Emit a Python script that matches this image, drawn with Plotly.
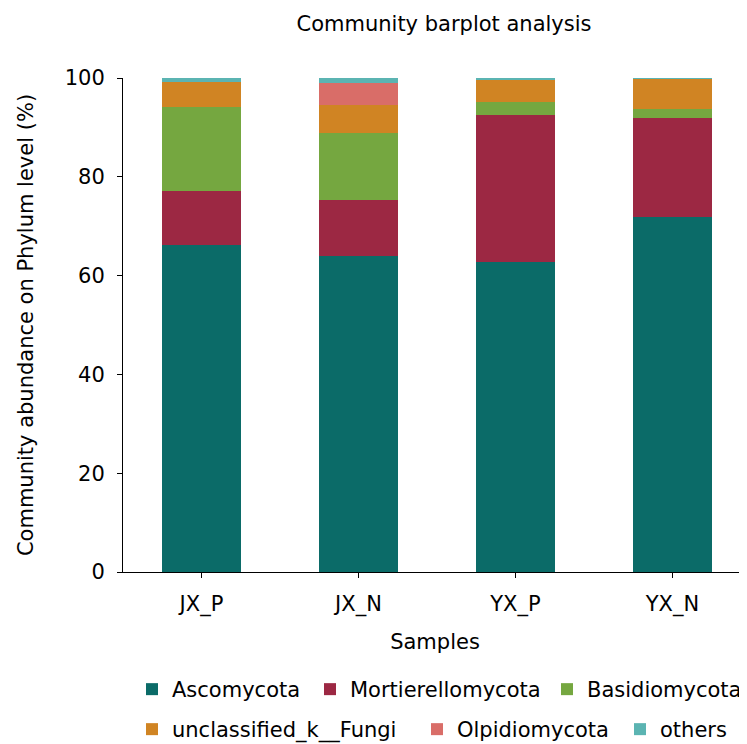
import plotly.graph_objects as go

samples = ['JX_P', 'JX_N', 'YX_P', 'YX_N']
phyla = ['Ascomycota', 'Mortierellomycota', 'Basidiomycota',
         'unclassified_k__Fungi', 'Olpidiomycota', 'others']

ascomycota = [66.2, 64.0, 62.8, 71.9]
mortierellomycota = [11.0, 11.3, 29.8, 20.1]
basidiomycota = [16.9, 13.6, 2.6, 1.8]
unclassified_fungi = [5.0, 5.7, 4.45, 6.05]
olpidiomycota = [0.0, 4.45, 0.0, 0.0]
others = [0.9, 0.95, 0.35, 0.15]

series = [ascomycota, mortierellomycota, basidiomycota,
          unclassified_fungi, olpidiomycota, others]
bar_colors = ['#0b6b68', '#9c2843', '#75a740', '#d08423', '#d96d68', '#5bb4b2']

colors = {
    'background': '#ffffff',
    'text': '#000000'
}

# page has an 8px body margin, so the figure is drawn 8px smaller
OFF = 8
W, H = 747 - OFF, 744 - OFF

# one legend per entry so the two rows can be spaced like the original
legend_names = ['legend', 'legend2', 'legend3', 'legend4', 'legend5', 'legend6']
legend_text_x = [172, 350, 587, 172, 457, 660]
legend_row_y = [690, 690, 690, 730, 730, 730]

fig = go.Figure()
for name, vals, c, lg in zip(phyla, series, bar_colors, legend_names):
    fig.add_trace(go.Bar(x=samples, y=vals, name=name, marker_color=c,
                         marker_line_width=0, width=0.5, legend=lg,
                         showlegend=True))

legends = {}
for lg, tx, ty in zip(legend_names, legend_text_x, legend_row_y):
    legends[lg] = dict(orientation='h', xref='container', yref='container',
                       x=(tx - OFF - 40) / W, xanchor='left',
                       y=1 - (ty - OFF - 21) / H, yanchor='top',
                       font=dict(size=21), bgcolor='rgba(0,0,0,0)')

fig.update_layout(
    barmode='stack',
    showlegend=True,
    width=W, height=H,
    margin=dict(l=123 - OFF, r=0, t=78 - OFF, b=H - (572 - OFF), autoexpand=False),
    plot_bgcolor=colors['background'],
    paper_bgcolor=colors['background'],
    font=dict(family='DejaVu Sans', color=colors['text'], size=21),
    title=dict(text='Community barplot analysis', x=(444 - OFF) / W, xanchor='center',
               y=1 - (24 - OFF) / H, yanchor='middle', font=dict(size=21)),
    **legends,
)
fig.update_yaxes(
    range=[0, 100],
    tickvals=[0, 20, 40, 60, 80, 100],
    showline=True, linewidth=1, linecolor='#000000',
    ticks='outside', ticklen=5, tickcolor='#000000',
    ticklabelstandoff=8,
    showgrid=False, zeroline=False,
    title=dict(text='Community abundance on Phylum level (%)', standoff=25,
               font=dict(size=21)))
fig.update_xaxes(
    range=[-0.5, 3.475],
    showline=True, linewidth=1, linecolor='#000000',
    ticks='outside', ticklen=5, tickcolor='#000000',
    ticklabelstandoff=8,
    showgrid=False,
    title=dict(text='Samples', standoff=18, font=dict(size=21)))

fig.write_html("out.html")
